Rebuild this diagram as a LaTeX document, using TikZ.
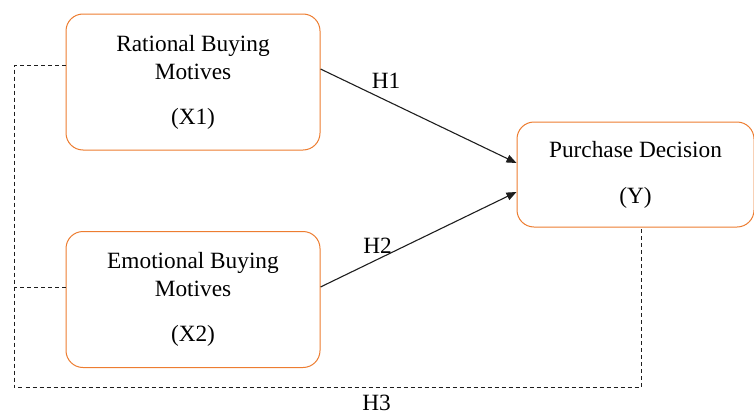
\documentclass[tikz,border=0pt]{standalone}
\usepackage{fontspec}
\setmainfont{Liberation Serif}
\usetikzlibrary{arrows.meta,calc}
\definecolor{boxorange}{RGB}{237,125,49}
\definecolor{lineblack}{RGB}{30,30,30}
\begin{document}
\begin{tikzpicture}[x=1pt,y=-1pt,
  varbox/.style={draw=boxorange,line width=1pt,rounded corners=17pt,fill=white,
    align=center,inner sep=0pt,font=\fontsize{23.3}{28}\selectfont},
  hyparrow/.style={draw=lineblack,line width=1.1pt,-{Triangle[length=10pt,width=8pt]}},
  hypdash/.style={draw=lineblack,line width=0.9pt,dash pattern=on 4pt off 3pt},
  hyplabel/.style={anchor=base,inner sep=0pt,font=\fontsize{23.3}{28}\selectfont}]
\useasboundingbox (0,0) rectangle (754,415);
\node[varbox,minimum width=254pt,minimum height=136pt] (b1) at (193,82)
  {Rational Buying\\Motives\\[17pt](X1)};
\node[varbox,minimum width=254pt,minimum height=136pt] (b2) at (193,299.5)
  {Emotional Buying\\Motives\\[17pt](X2)};
\node[varbox,minimum width=237pt,minimum height=105pt] (b3) at (635.5,174.5)
  {Purchase Decision\\[18pt](Y)};
\coordinate (cl) at (14,387);
\coordinate (b2d) at ([yshift=12.5pt]b2.west);
\draw[hyparrow] ([yshift=13pt]b1.east) -- ([yshift=11.5pt]b3.west);
\draw[hyparrow] ([yshift=12.5pt]b2.east) -- ([yshift=-17.5pt]b3.west);
\draw[hypdash] ([yshift=17pt]b1.west) -| (cl) -| ([xshift=5.5pt]b3.south);
\draw[hypdash] (b2d) -- (b2d -| cl);
\node[hyplabel] (h1) at (386,88) {H1};
\node[hyplabel] (h2) at (377.5,253) {H2};
\node[hyplabel] (h3) at (376.5,410) {H3};
\end{tikzpicture}
\end{document}
